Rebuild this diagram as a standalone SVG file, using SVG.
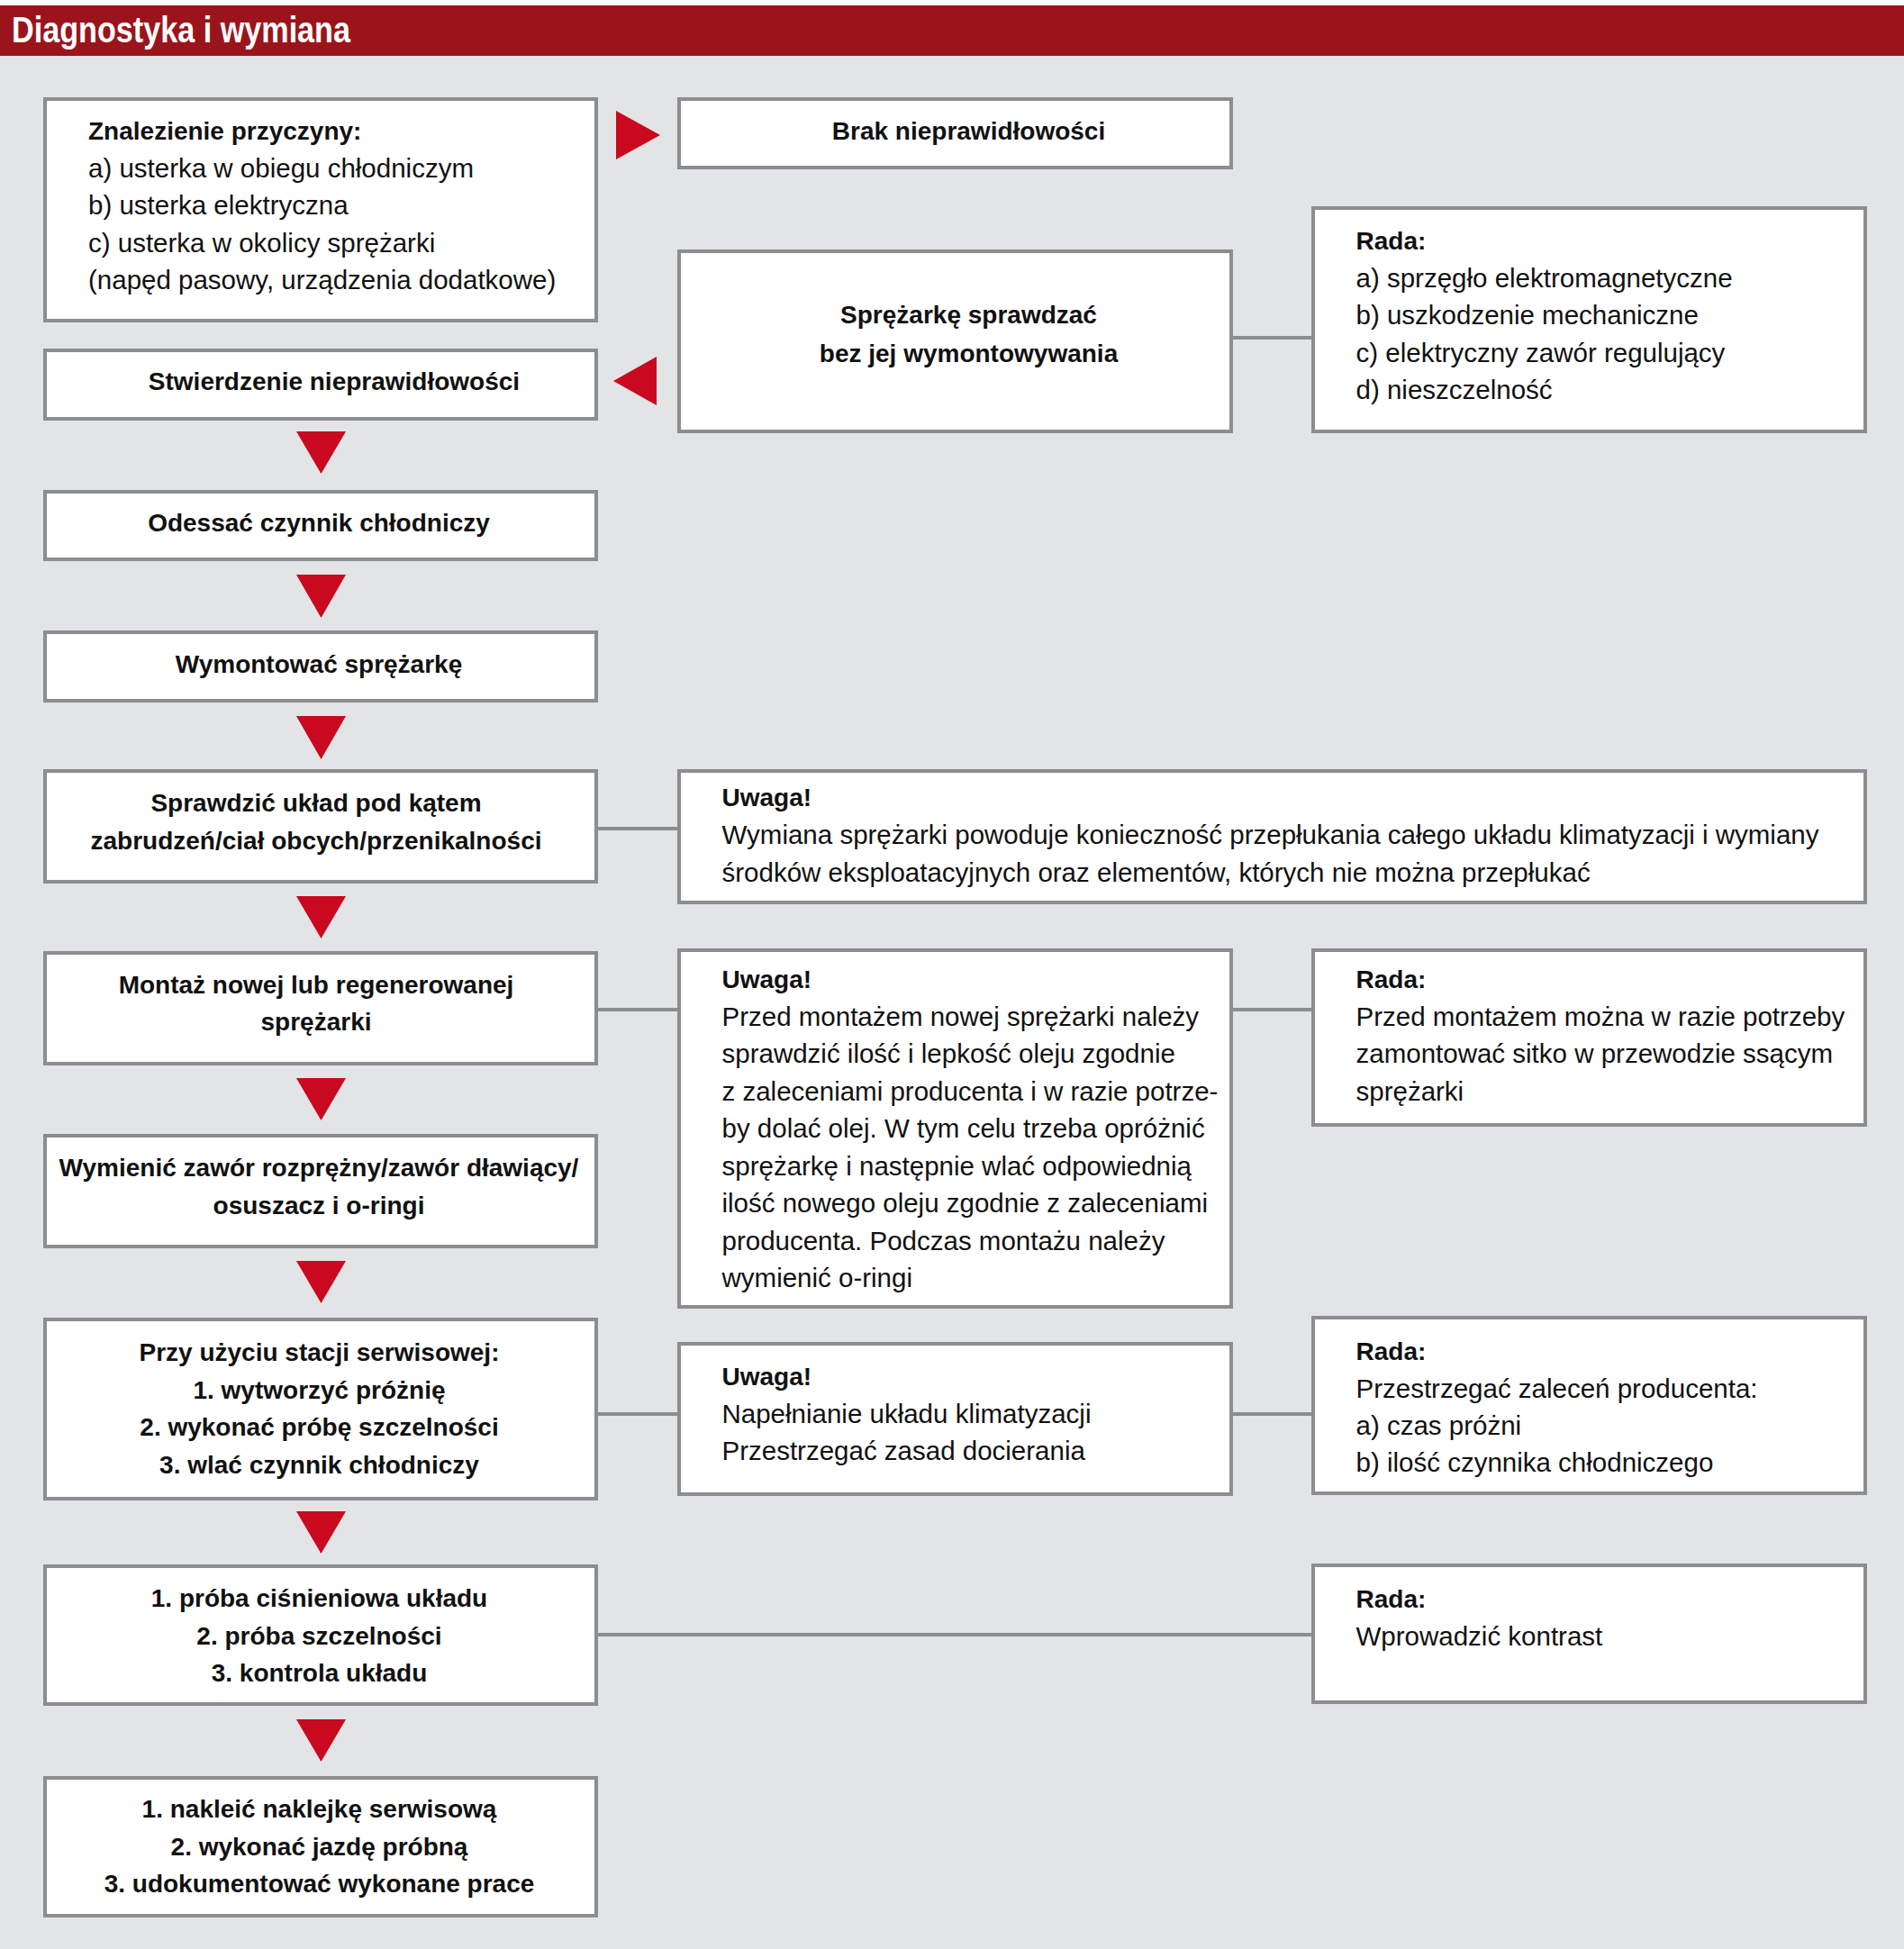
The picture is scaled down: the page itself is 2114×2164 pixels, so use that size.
<svg xmlns="http://www.w3.org/2000/svg" width="2114" height="2164" viewBox="0 0 2114 2164">
<style>
.box{fill:#ffffff;stroke:#8c8d8f;stroke-width:4}
.conn{stroke:#8c8d8f;stroke-width:4;fill:none}
.arr{fill:#c8091f}
text{font-family:"Liberation Sans",Arial,sans-serif;fill:#111111}
.b{font-weight:bold;font-size:28px}
.r{font-size:29.5px}
.c{text-anchor:middle}
.hd{font-weight:bold;font-size:40px;fill:#ffffff}
</style>
<rect x="0" y="0" width="2114" height="2164" fill="#e3e4e6"/>
<rect x="0" y="0" width="2114" height="6" fill="#ffffff"/>
<g id="header">
<rect x="0" y="6" width="2114" height="56" fill="#9b141c"/>
<text class="hd" x="13" y="47" textLength="376" lengthAdjust="spacingAndGlyphs">Diagnostyka i wymiana</text>
</g>
<g id="connectors">
<line class="conn" x1="1369" y1="375" x2="1456" y2="375"/>
<line class="conn" x1="664" y1="920" x2="752" y2="920"/>
<line class="conn" x1="664" y1="1121" x2="752" y2="1121"/>
<line class="conn" x1="1369" y1="1121" x2="1456" y2="1121"/>
<line class="conn" x1="664" y1="1570" x2="752" y2="1570"/>
<line class="conn" x1="1369" y1="1570" x2="1456" y2="1570"/>
<line class="conn" x1="664" y1="1815" x2="1456" y2="1815"/>
<polygon class="arr" points="684,123 733,150 684,177"/>
<polygon class="arr" points="729,396 681,423 729,450"/>
<polygon class="arr" points="329,479 384,479 356.5,526"/>
<polygon class="arr" points="329,638 384,638 356.5,686"/>
<polygon class="arr" points="329,795 384,795 356.5,843"/>
<polygon class="arr" points="329,995 384,995 356.5,1042"/>
<polygon class="arr" points="329,1197 384,1197 356.5,1244"/>
<polygon class="arr" points="329,1400 384,1400 356.5,1447"/>
<polygon class="arr" points="329,1678 384,1678 356.5,1725"/>
<polygon class="arr" points="329,1909 384,1909 356.5,1956"/>
</g>
<g id="n1">
<rect class="box" x="50" y="110" width="612" height="246"/>
<text class="b" x="98" y="155">Znalezienie przyczyny:</text>
<text class="r" x="98" y="196.5">a) usterka w obiegu chłodniczym</text>
<text class="r" x="98" y="238">b) usterka elektryczna</text>
<text class="r" x="98" y="279.5">c) usterka w okolicy sprężarki</text>
<text class="r" x="98" y="321">(napęd pasowy, urządzenia dodatkowe)</text>
</g>
<g id="n2">
<rect class="box" x="50" y="389" width="612" height="76"/>
<text class="b c" x="371" y="433">Stwierdzenie nieprawidłowości</text>
</g>
<g id="n3">
<rect class="box" x="50" y="546" width="612" height="75"/>
<text class="b c" x="354" y="590">Odessać czynnik chłodniczy</text>
</g>
<g id="n4">
<rect class="box" x="50" y="702" width="612" height="76"/>
<text class="b c" x="354" y="746.5">Wymontować sprężarkę</text>
</g>
<g id="n5">
<rect class="box" x="50" y="856" width="612" height="123"/>
<text class="b c" x="351" y="900.5">Sprawdzić układ pod kątem</text>
<text class="b c" x="351" y="942.5">zabrudzeń/ciał obcych/przenikalności</text>
</g>
<g id="n6">
<rect class="box" x="50" y="1058" width="612" height="123"/>
<text class="b c" x="351" y="1102.5">Montaż nowej lub regenerowanej</text>
<text class="b c" x="351" y="1144">sprężarki</text>
</g>
<g id="n7">
<rect class="box" x="50" y="1261" width="612" height="123"/>
<text class="b c" x="354" y="1306">Wymienić zawór rozprężny/zawór dławiący/</text>
<text class="b c" x="354" y="1347.5">osuszacz i o-ringi</text>
</g>
<g id="n8">
<rect class="box" x="50" y="1465" width="612" height="199"/>
<text class="b c" x="354.5" y="1511">Przy użyciu stacji serwisowej:</text>
<text class="b c" x="354.5" y="1552.5">1. wytworzyć próżnię</text>
<text class="b c" x="354.5" y="1594">2. wykonać próbę szczelności</text>
<text class="b c" x="354.5" y="1636">3. wlać czynnik chłodniczy</text>
</g>
<g id="n9">
<rect class="box" x="50" y="1739" width="612" height="153"/>
<text class="b c" x="354.5" y="1784">1. próba ciśnieniowa układu</text>
<text class="b c" x="354.5" y="1825.5">2. próba szczelności</text>
<text class="b c" x="354.5" y="1867">3. kontrola układu</text>
</g>
<g id="n10">
<rect class="box" x="50" y="1974" width="612" height="153"/>
<text class="b c" x="354.5" y="2018">1. nakleić naklejkę serwisową</text>
<text class="b c" x="354.5" y="2059.5">2. wykonać jazdę próbną</text>
<text class="b c" x="354.5" y="2101">3. udokumentować wykonane prace</text>
</g>
<g id="brak">
<rect class="box" x="754" y="110" width="613" height="76"/>
<text class="b c" x="1075.5" y="155">Brak nieprawidłowości</text>
</g>
<g id="sprawdzac">
<rect class="box" x="754" y="279" width="613" height="200"/>
<text class="b c" x="1075.5" y="359">Sprężarkę sprawdzać</text>
<text class="b c" x="1075.5" y="402">bez jej wymontowywania</text>
</g>
<g id="rada1">
<rect class="box" x="1458" y="231" width="613" height="248"/>
<text class="b" x="1505.5" y="277">Rada:</text>
<text class="r" x="1505.5" y="318.5">a) sprzęgło elektromagnetyczne</text>
<text class="r" x="1505.5" y="360">b) uszkodzenie mechaniczne</text>
<text class="r" x="1505.5" y="401.5">c) elektryczny zawór regulujący</text>
<text class="r" x="1505.5" y="443">d) nieszczelność</text>
</g>
<g id="uwaga1">
<rect class="box" x="754" y="856" width="1317" height="146"/>
<text class="b" x="801.5" y="895">Uwaga!</text>
<text class="r" x="801.5" y="937">Wymiana sprężarki powoduje konieczność przepłukania całego układu klimatyzacji i wymiany</text>
<text class="r" x="801.5" y="978.5">środków eksploatacyjnych oraz elementów, których nie można przepłukać</text>
</g>
<g id="uwaga2">
<rect class="box" x="754" y="1055" width="613" height="396"/>
<text class="b" x="801.5" y="1097">Uwaga!</text>
<text class="r" x="801.5" y="1138.5">Przed montażem nowej sprężarki należy</text>
<text class="r" x="801.5" y="1180">sprawdzić ilość i lepkość oleju zgodnie</text>
<text class="r" x="801.5" y="1221.5">z zaleceniami producenta i w razie potrze-</text>
<text class="r" x="801.5" y="1263">by dolać olej. W tym celu trzeba opróżnić</text>
<text class="r" x="801.5" y="1304.5">sprężarkę i następnie wlać odpowiednią</text>
<text class="r" x="801.5" y="1346">ilość nowego oleju zgodnie z zaleceniami</text>
<text class="r" x="801.5" y="1387.5">producenta. Podczas montażu należy</text>
<text class="r" x="801.5" y="1429">wymienić o-ringi</text>
</g>
<g id="rada2">
<rect class="box" x="1458" y="1055" width="613" height="194"/>
<text class="b" x="1505.5" y="1097">Rada:</text>
<text class="r" x="1505.5" y="1138.5">Przed montażem można w razie potrzeby</text>
<text class="r" x="1505.5" y="1180">zamontować sitko w przewodzie ssącym</text>
<text class="r" x="1505.5" y="1221.5">sprężarki</text>
</g>
<g id="uwaga3">
<rect class="box" x="754" y="1492" width="613" height="167"/>
<text class="b" x="801.5" y="1538">Uwaga!</text>
<text class="r" x="801.5" y="1579.5">Napełnianie układu klimatyzacji</text>
<text class="r" x="801.5" y="1621">Przestrzegać zasad docierania</text>
</g>
<g id="rada3">
<rect class="box" x="1458" y="1463" width="613" height="195"/>
<text class="b" x="1505.5" y="1510">Rada:</text>
<text class="r" x="1505.5" y="1551.5">Przestrzegać zaleceń producenta:</text>
<text class="r" x="1505.5" y="1593">a) czas próżni</text>
<text class="r" x="1505.5" y="1634">b) ilość czynnika chłodniczego</text>
</g>
<g id="rada4">
<rect class="box" x="1458" y="1738" width="613" height="152"/>
<text class="b" x="1505.5" y="1785">Rada:</text>
<text class="r" x="1505.5" y="1826.5">Wprowadzić kontrast</text>
</g>
</svg>
